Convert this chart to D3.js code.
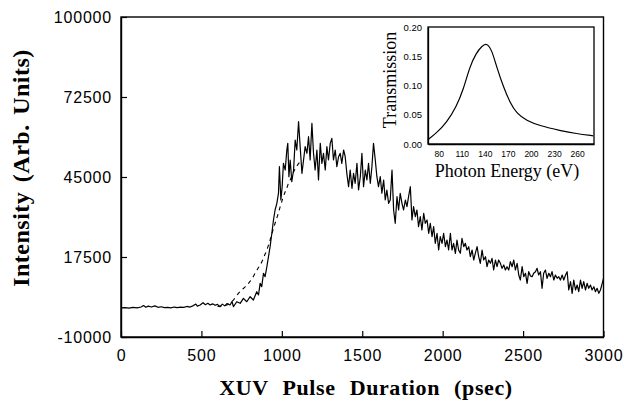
<!DOCTYPE html>
<html><head><meta charset="utf-8">
<script src="https://cdn.jsdelivr.net/npm/d3@7"></script>
<style>body{margin:0;background:#fff}svg{display:block}</style>
</head><body>
<svg id="c" width="624" height="404"></svg>
<script>
// ---- main chart data ----
const pulseTime = [0,25,50,75,100,125,140,155,170,190,210,230,250,270,290,310,330,350,370,390,410,430,450,465,475,492,510,525,540,554,570,585,600,616,630,645,660,678,690,699,720,741,761,782,803,823,844,855,865,875,886,896,907,917,927,938,948,958,969,979,985,994,1002,1010,1021,1031,1037,1044,1052,1062,1073,1083,1093,1104,1114,1125,1135,1145,1156,1166,1176,1187,1197,1207,1218,1228,1239,1249,1259,1270,1280,1290,1301,1311,1321,1332,1342,1353,1363,1373,1384,1394,1404,1415,1425,1436,1446,1456,1467,1477,1488,1498,1508,1519,1529,1539,1550,1560,1570,1581,1591,1601,1612,1622,1633,1643,1653,1664,1674,1685,1695,1705,1716,1726,1736,1747,1757,1768,1778,1788,1799,1809,1819,1830,1840,1850,1861,1871,1882,1892,1903,1913,1923,1934,1944,1954,1965,1975,1985,1996,2006,2017,2027,2037,2048,2058,2068,2079,2089,2099,2110,2120,2131,2141,2151,2162,2172,2183,2193,2203,2214,2224,2234,2245,2255,2266,2276,2286,2297,2307,2317,2328,2338,2348,2359,2369,2380,2390,2400,2411,2421,2432,2442,2452,2463,2473,2483,2494,2504,2515,2525,2535,2546,2556,2566,2577,2587,2597,2608,2618,2628,2639,2649,2660,2670,2680,2691,2701,2712,2722,2732,2743,2753,2764,2774,2784,2795,2805,2815,2826,2836,2846,2857,2867,2877,2888,2898,2908,2919,2929,2940,2950,2960,2971,2981,2992,3000];
const intensity = [0,100,-100,200,0,300,800,200,600,300,700,200,400,100,200,0,300,100,300,200,500,300,800,1300,600,1000,1800,1100,1600,1000,1400,900,1200,420,1300,700,1500,1000,2200,420,2130,1580,3300,2130,3850,2720,5570,4440,8460,7290,11900,10730,14170,17600,21040,25650,30220,33660,35960,39400,48540,37100,41660,49700,47400,54280,56580,45100,50840,43390,47400,57720,54280,64010,55420,46270,50840,55420,53150,58850,50840,63460,53150,47400,54280,43970,56580,49700,53150,47400,55420,50840,56580,58300,50840,54280,48540,51980,53150,49700,54280,51980,46270,41660,47400,41110,46270,42830,49700,40530,45100,53150,41660,47400,43970,49700,42830,48540,56580,50840,45100,41660,45100,39400,43970,37100,40530,35960,37100,47400,33660,29090,38230,33660,39400,35960,33660,37100,34790,38230,41660,30220,34790,31350,33660,27920,31350,26780,32520,29090,30220,25650,29090,24480,27920,22210,25650,19910,24480,22210,25650,21040,23340,19910,25650,19910,22210,18770,23340,19910,18770,23930,21040,22210,19910,21040,17600,19910,16470,18770,21040,17600,15330,19910,16470,17600,14170,16470,15330,17050,13030,16470,14170,16470,15330,13610,14750,13030,14170,13030,15900,14170,16470,13030,15330,11310,9590,14170,10730,11900,8460,12450,11000,10730,11900,12450,13610,11310,12450,6740,11900,13030,10180,11900,10730,12450,9590,11310,10180,10730,9590,11310,9590,11310,12450,6160,9010,5020,9590,6160,7870,5570,9590,6740,9010,6160,8460,6740,7870,6160,7290,5570,6740,5020,6160,8460,10180];
// dashed fit curve
const fitTime = [600,630,658,700,730,765,793,815,834,855,876,893,907,917,927,942,958,975,990,1005,1021,1031,1041,1052,1080,1110];
const fitValue = [500,700,1000,2800,5020,6900,8460,10100,11900,13900,15900,18100,19910,21600,23340,26200,29090,32000,34790,37500,39950,41200,42830,44000,47500,50000];
const xTicks = [0,500,1000,1500,2000,2500,3000];
const yTicks = [-10000,17500,45000,72500,100000];
// ---- inset data ----
const photonEnergy = [66,77,90,103,112,120.5,129,136,142,149,155,164,173,181,194,212,238,259,281];
const transmission = [0.0074,0.019,0.036,0.064,0.093,0.133,0.156,0.167,0.173,0.161,0.133,0.098,0.070,0.053,0.040,0.031,0.023,0.0176,0.014];
const insetXTicks = [80,110,140,170,200,230,260];
const insetYTicks = [0.00,0.05,0.10,0.15,0.20];

const svg = d3.select("#c");
const x = d3.scaleLinear().domain([0,3000]).range([121,603.5]);
const y = d3.scaleLinear().domain([-10000,100000]).range([337,17]);
const sans = "'Liberation Sans', Arial, sans-serif";
const serif = "'Liberation Serif', 'Times New Roman', serif";

// frame
svg.append("rect").attr("x",121).attr("y",17).attr("width",482.5).attr("height",320)
  .attr("fill","none").attr("stroke","#000").attr("stroke-width",1.4);

// axes
const xAxis = svg.append("g").attr("transform","translate(0,337)")
  .call(d3.axisBottom(x).tickValues(xTicks).tickSizeInner(-6).tickSizeOuter(0).tickPadding(13).tickFormat(d=>String(d)));
const yAxis = svg.append("g").attr("transform","translate(121,0)")
  .call(d3.axisLeft(y).tickValues(yTicks).tickSizeInner(-6).tickSizeOuter(0).tickPadding(9).tickFormat(d=>String(d)));
[xAxis,yAxis].forEach(a=>{
  a.select(".domain").attr("stroke","#000").attr("stroke-width",1.4);
  a.selectAll(".tick line").attr("stroke","#000").attr("stroke-width",1.2);
  a.selectAll("text").attr("font-family",sans).attr("font-size",16).attr("letter-spacing","0.8px").attr("fill","#000");
});
yAxis.selectAll("text").attr("dy","0.36em");

// fit (dashed)
const fitLine = d3.line().x((d,i)=>x(fitTime[i])).y(d=>y(d)).curve(d3.curveMonotoneX);
svg.append("path").attr("d",fitLine(fitValue)).attr("fill","none").attr("stroke","#000")
  .attr("stroke-width",1.1).attr("stroke-dasharray","4,4");

// data
const dataLine = d3.line().x((d,i)=>x(pulseTime[i])).y(d=>y(d));
svg.append("path").attr("d",dataLine(intensity)).attr("fill","none").attr("stroke","#000")
  .attr("stroke-width",1.2).attr("stroke-linejoin","round");

// axis titles
svg.append("text").attr("x",366).attr("y",395).attr("text-anchor","middle")
  .attr("font-family",serif).attr("font-weight","bold").attr("font-size",22)
  .attr("letter-spacing","0.6px").attr("word-spacing","8px").text("XUV Pulse Duration (psec)");
svg.append("text").attr("transform","translate(29,168) rotate(-90)").attr("text-anchor","middle")
  .attr("font-family",serif).attr("font-weight","bold").attr("font-size",24)
  .attr("letter-spacing","0.5px").attr("word-spacing","3px").text("Intensity (Arb. Units)");

// ---- inset ----
const ix = d3.scaleLinear().domain([66,282]).range([428,594]);
const iy = d3.scaleLinear().domain([0,0.2]).range([144,27]);
svg.append("rect").attr("x",428).attr("y",27).attr("width",166).attr("height",117)
  .attr("fill","#fff").attr("stroke","#000").attr("stroke-width",1.3);
const ixAxis = svg.append("g").attr("transform","translate(0,144)")
  .call(d3.axisBottom(ix).tickValues(insetXTicks).tickSize(0).tickPadding(7).tickFormat(d=>String(d)));
const iyAxis = svg.append("g").attr("transform","translate(428,0)")
  .call(d3.axisLeft(iy).tickValues(insetYTicks).tickSize(0).tickPadding(6).tickFormat(d3.format(".2f")));
[ixAxis,iyAxis].forEach(a=>{
  a.select(".domain").attr("stroke","#000").attr("stroke-width",1.3);
  a.selectAll("text").attr("font-family",sans).attr("fill","#000");
});
ixAxis.selectAll("text").attr("font-size",8.5);
iyAxis.selectAll("text").attr("font-size",9.5);
const insetLine = d3.line().x((d,i)=>ix(photonEnergy[i])).y(d=>iy(d)).curve(d3.curveBasis);
svg.append("path").attr("d",insetLine(transmission)).attr("fill","none").attr("stroke","#000").attr("stroke-width",1.2);
svg.append("text").attr("x",507).attr("y",177).attr("text-anchor","middle")
  .attr("font-family",serif).attr("font-size",18).text("Photon Energy (eV)");
svg.append("text").attr("transform","translate(396,80) rotate(-90)").attr("text-anchor","middle")
  .attr("font-family",serif).attr("font-size",18).text("Transmission");
</script>
</body></html>
